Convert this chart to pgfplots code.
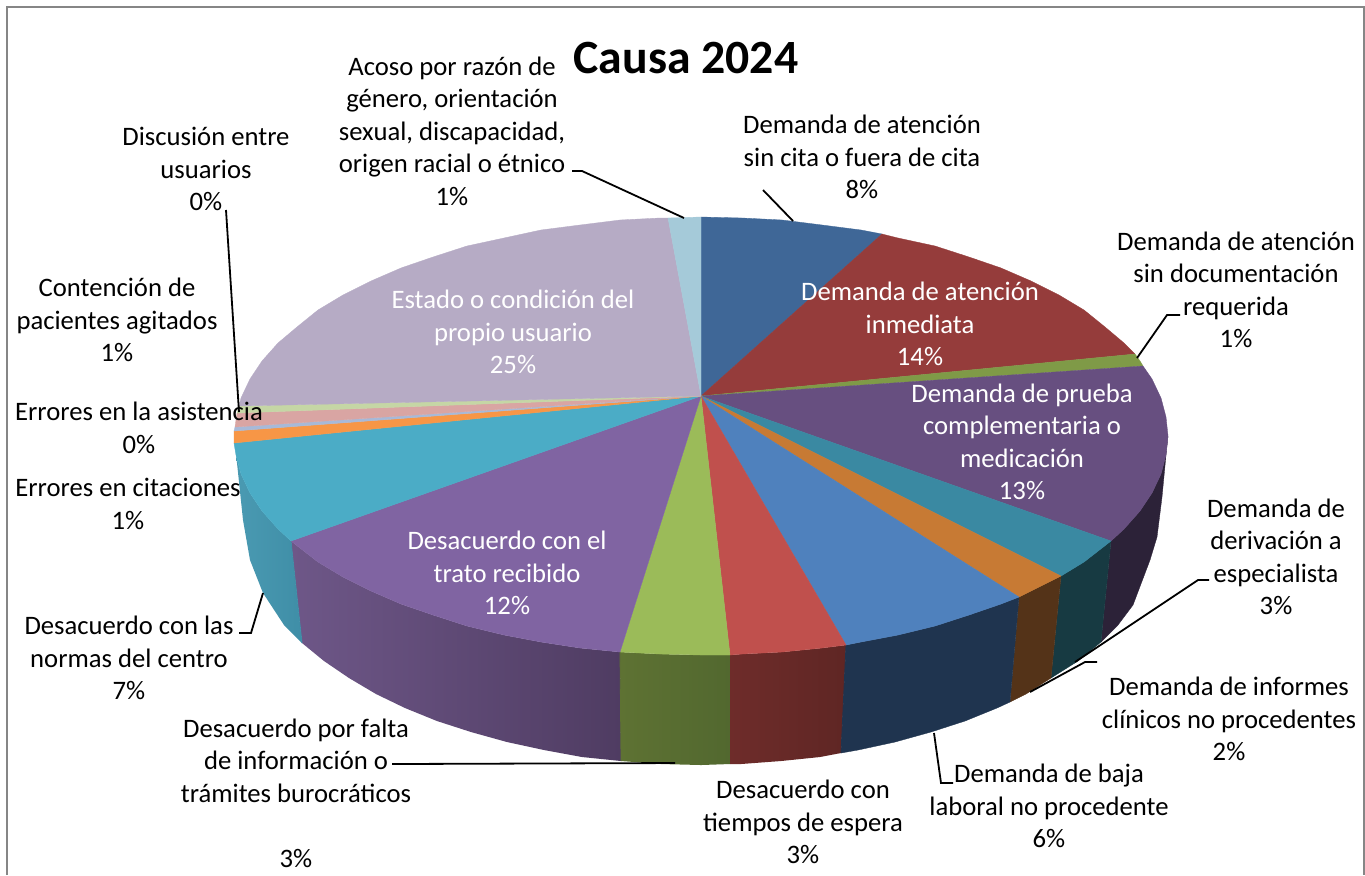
\documentclass[border=0pt]{standalone}
\usepackage{fontspec}
\setmainfont{Carlito}
\usepackage{pgfplots}
\pgfplotsset{compat=1.18}

% top faces
\definecolor{top1}{HTML}{3F6797}
\definecolor{top2}{HTML}{953C3B}
\definecolor{top3}{HTML}{7F9A47}
\definecolor{top4}{HTML}{674F80}
\definecolor{top5}{HTML}{3A89A2}
\definecolor{top6}{HTML}{C77A34}
\definecolor{top7}{HTML}{4F81BD}
\definecolor{top8}{HTML}{C0504D}
\definecolor{top9}{HTML}{9BBB59}
\definecolor{top10}{HTML}{8064A2}
\definecolor{top11}{HTML}{4BACC6}
\definecolor{top12}{HTML}{F79646}
\definecolor{top13}{HTML}{A7B9D8}
\definecolor{top14}{HTML}{D9A5A3}
\definecolor{top15}{HTML}{C5D6A5}
\definecolor{top16}{HTML}{B6ABC5}
\definecolor{top17}{HTML}{A5CAD9}
% walls
\definecolor{wall4}{HTML}{2C2238}
\definecolor{wall5}{HTML}{173A42}
\definecolor{wall6}{HTML}{543318}
\definecolor{wall7}{HTML}{1F344F}
\definecolor{wall8a}{HTML}{6E2C2A}
\definecolor{wall8b}{HTML}{5F2624}
\definecolor{wall9a}{HTML}{5E7233}
\definecolor{wall9b}{HTML}{52682F}
\definecolor{wall10a}{HTML}{6E5788}
\definecolor{wall10b}{HTML}{4F3C62}
\definecolor{wall11a}{HTML}{4A9AB2}
\definecolor{wall11b}{HTML}{3F8EA7}
\definecolor{framegray}{HTML}{868686}

\pgfplotsset{
  sl/.style={fill=#1,draw=#1,line width=0.25pt},
  leader/.style={black,line width=1.35pt},
}
\tikzset{
  lab/.style={align=center,inner sep=0pt,text=#1,font=\fontsize{20}{24.4}\selectfont},
  lab/.default=black,
}

\begin{document}
\begin{tikzpicture}
\begin{axis}[
    scale only axis,
    width=1023.75pt,
    height=656.25pt,
    xmin=0, xmax=1365,
    ymin=0, ymax=875,
    y dir=reverse,
    hide axis,
]
% page + frame
\addplot[fill=white,draw=none] coordinates {(0,0) (1365,0) (1365,875) (0,875)} -- cycle;
\addplot[framegray,line width=1.5pt] coordinates {(6.5,875) (6.5,6.5) (1363.5,6.5) (1363.5,875)};

% walls
\addplot[sl=wall4] coordinates {(1168,436) (1166,455) (1161,474) (1152,493) (1140,511) (1124,529) (1111,541) (1101,642) (1118,625) (1133,605) (1150,560) (1157,537) (1162,497) (1166,455)} -- cycle;
\addplot[sl=wall5] coordinates {(1111,541) (1101,642) (1078,661) (1051,678) (1061,576) (1084,562)} -- cycle;
\addplot[sl=wall6] coordinates {(1061,576) (1051,678) (1026,694) (1010,702) (1019,597) (1031,591)} -- cycle;
\addplot[sl=wall7] coordinates {(1019,597) (1010,702) (997,708) (965,721) (931,732) (895,742) (858,750) (841,753) (846,645) (861,642) (898,635) (935,626) (969,615) (1001,604)} -- cycle;
\addplot[left color=wall8a,right color=wall8b,draw=none] coordinates {(846,645) (841,753) (820,757) (781,761) (741,764) (730,764) (730,655) (742,654) (782,652) (822,648)} -- cycle;
\addplot[left color=wall9a,right color=wall9b,draw=none] coordinates {(730,655) (730,764) (701,765) (661,764) (621,761) (620,652) (660,654) (701,655)} -- cycle;
\addplot[left color=wall10a,right color=wall10b,draw=none] coordinates {(620,652) (621,761) (582,757) (544,750) (507,742) (471,732) (437,721) (405,708) (376,694) (349,678) (324,661) (302,643) (291,541) (318,562) (343,577) (371,591) (401,604) (433,615) (467,626) (504,635) (541,642) (580,648)} -- cycle;
\addplot[left color=wall11a,right color=wall11b,draw=none] coordinates {(291,541) (302,643) (284,625) (263,593) (250,560) (243,520) (237,463) (236,455) (241,474) (250,493) (262,511) (278,529)} -- cycle;
% seams between shaded walls
\addplot[wall11b,line width=0.6pt] coordinates {(291,541) (302,643)};
\addplot[wall9a,line width=0.6pt] coordinates {(620,652) (621,761)};
\addplot[wall8a,line width=0.6pt] coordinates {(730,655) (730,764)};
\addplot[wall7,line width=0.6pt] coordinates {(846,645) (841,753)};

% top faces
\addplot[sl=top1] coordinates {(701,396) (701,217) (742,218) (782,220) (822,225) (861,230) (882,234)} -- cycle;
\addplot[sl=top2] coordinates {(701,396) (882,234) (898,238) (935,246) (969,257) (1001,268) (1031,281) (1059,295) (1084,310) (1105,327) (1124,343) (1135,354)} -- cycle;
\addplot[sl=top3] coordinates {(701,396) (1135,354) (1140,361) (1143,366)} -- cycle;
\addplot[sl=top4] coordinates {(701,396) (1143,366) (1152,379) (1161,398) (1166,417) (1168,436) (1166,455) (1161,474) (1152,493) (1140,511) (1124,529) (1111,541)} -- cycle;
\addplot[sl=top5] coordinates {(701,396) (1111,541) (1084,562) (1061,576)} -- cycle;
\addplot[sl=top6] coordinates {(701,396) (1061,576) (1031,591) (1019,597)} -- cycle;
\addplot[sl=top7] coordinates {(701,396) (1019,597) (1001,604) (969,615) (935,626) (898,635) (861,642) (846,645)} -- cycle;
\addplot[sl=top8] coordinates {(701,396) (846,645) (822,648) (782,652) (742,654) (730,655)} -- cycle;
\addplot[sl=top9] coordinates {(701,396) (730,655) (701,655) (660,654) (620,652)} -- cycle;
\addplot[sl=top10] coordinates {(701,396) (620,652) (580,648) (541,642) (504,635) (467,626) (433,615) (401,604) (371,591) (343,577) (318,562) (291,541)} -- cycle;
\addplot[sl=top11] coordinates {(701,396) (291,541) (278,529) (262,511) (250,493) (241,474) (236,455) (234,443)} -- cycle;
\addplot[sl=top12] coordinates {(701,396) (234,443) (234,431)} -- cycle;
\addplot[sl=top13] coordinates {(701,396) (234,431) (235,427)} -- cycle;
\addplot[sl=top14] coordinates {(701,396) (235,427) (237,413)} -- cycle;
\addplot[sl=top15] coordinates {(701,396) (237,413) (239,406)} -- cycle;
\addplot[sl=top16] coordinates {(701,396) (239,406) (241,398) (250,379) (262,361) (278,343) (297,327) (318,310) (343,295) (371,281) (401,268) (433,257) (467,246) (504,238) (541,230) (580,225) (620,220) (660,218) (668,218)} -- cycle;
\addplot[sl=top17] coordinates {(701,396) (668,218) (701,217)} -- cycle;

% leader lines
\addplot[leader] coordinates {(763,190) (793,221)};
\addplot[leader] coordinates {(572,171) (582,171) (684,218)};
\addplot[leader] coordinates {(226,210) (239,412)};
\addplot[leader] coordinates {(1180,315) (1167,315) (1137,358)};
\addplot[leader] coordinates {(1209,580) (1198,580) (1075,662)};
\addplot[leader] coordinates {(1097,662) (1085,662) (1030,692)};
\addplot[leader] coordinates {(934,733) (941,783) (953,783)};
\addplot[leader] coordinates {(392,764) (675,763)};
\addplot[leader] coordinates {(239,633) (251,633) (263,593)};

% title
\node[inner sep=0pt,font=\fontsize{35.8}{40}\selectfont\bfseries] at (axis cs:686,58) {Causa 2024};

% outside labels
\node[lab] at (axis cs:452,131) {Acoso por razón de\\género, orientación\\sexual, discapacidad,\\origen racial o étnico\\1\%};
\node[lab] at (axis cs:206,169) {Discusión entre\\usuarios\\0\%};
\node[lab] at (axis cs:117,320) {Contención de\\pacientes agitados\\1\%};
\node[lab] at (axis cs:139,428) {Errores en la asistencia\\0\%};
\node[lab] at (axis cs:128,504) {Errores en citaciones\\1\%};
\node[lab] at (axis cs:129,658) {Desacuerdo con las\\normas del centro\\7\%};
\node[lab] at (axis cs:296,793) {Desacuerdo por falta\\de información o\\trámites burocráticos\\[24.4pt]3\%};
\node[lab] at (axis cs:803,822) {Desacuerdo con\\tiempos de espera\\3\%};
\node[lab] at (axis cs:1049,806) {Demanda de baja\\laboral no procedente\\6\%};
\node[lab] at (axis cs:1229,719) {Demanda de informes\\clínicos no procedentes\\2\%};
\node[lab] at (axis cs:1276,557) {Demanda de\\derivación a\\especialista\\3\%};
\node[lab] at (axis cs:1236,290) {Demanda de atención\\sin documentación\\requerida\\1\%};
\node[lab] at (axis cs:862,157) {Demanda de atención\\sin cita o fuera de cita\\8\%};

% labels on the pie
\node[lab=white] at (axis cs:513,332) {Estado o condición del\\propio usuario\\25\%};
\node[lab=white] at (axis cs:920,324) {Demanda de atención\\inmediata\\14\%};
\node[lab=white] at (axis cs:1022,442) {Demanda de prueba\\complementaria o\\medicación\\13\%};
\node[lab=white] at (axis cs:507,573) {Desacuerdo con el\\trato recibido\\12\%};
\end{axis}
\end{tikzpicture}
\end{document}
